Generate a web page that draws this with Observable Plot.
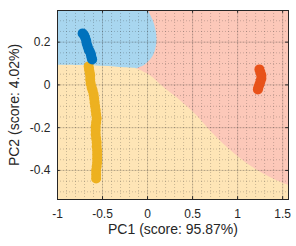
<!DOCTYPE html>
<html>
<head>
<meta charset="utf-8">
<script src="https://cdn.jsdelivr.net/npm/d3@7"></script>
<script src="https://cdn.jsdelivr.net/npm/@observablehq/plot@0.6"></script>
<style>
  html, body { margin: 0; padding: 0; background: #fff; }
</style>
</head>
<body>
<div id="chart"></div>
<script>
// ---- data ----
const xDomain = [-1, 1.565];
const yDomain = [-0.536, 0.348];
const xTicks = [-1, -0.5, 0, 0.5, 1, 1.5];
const yTicks = [-0.4, -0.2, 0, 0.2];
const xLabel = "PC1 (score: 95.87%)";
const yLabel = "PC2 (score: 4.02%)";

// class 1 (blue)
const blueX = [-0.721, -0.704, -0.693, -0.682, -0.676, -0.665, -0.654, -0.643, -0.632, -0.626, -0.621, -0.615];
const blueY = [0.241, 0.232, 0.222, 0.208, 0.194, 0.180, 0.166, 0.157, 0.147, 0.136, 0.126, 0.119];
// class 2 (yellow)
const yellowX = [-0.654, -0.649, -0.643, -0.637, -0.637, -0.632, -0.621, -0.610, -0.599, -0.593, -0.588, -0.582, -0.576, -0.571, -0.565, -0.571, -0.576, -0.576, -0.576, -0.571, -0.565, -0.565, -0.560, -0.560, -0.560, -0.560, -0.565, -0.571, -0.571, -0.571];
const yellowY = [0.0865, 0.0725, 0.0585, 0.0444, 0.0257, 0.0070, -0.0117, -0.0257, -0.0444, -0.0631, -0.0818, -0.1005, -0.1192, -0.1380, -0.1567, -0.1754, -0.1941, -0.2128, -0.2315, -0.2502, -0.2689, -0.2877, -0.3064, -0.3251, -0.3438, -0.3625, -0.3812, -0.3999, -0.4186, -0.4373];
// class 3 (red)
const redX = [1.242, 1.253, 1.264, 1.264, 1.253, 1.242, 1.231, 1.225];
const redY = [0.0725, 0.0585, 0.0444, 0.0304, 0.0164, 0.0023, -0.0117, -0.0210];

// decision boundaries
// blue / yellow (function of x)
const byX = [-1, -0.5, -0.25, -0.116];
const byY = [0.092, 0.087, 0.080, 0.076];
// blue / pink (function of y)
const bpY = [0.076, 0.087, 0.110, 0.138, 0.171, 0.208, 0.255, 0.302, 0.348];
const bpX = [-0.116, -0.05, 0.017, 0.067, 0.094, 0.105, 0.094, 0.061, 0.006];
// pink / yellow (function of x)
const pyX = [-0.12, 0.028, 0.175, 0.360, 0.545, 0.693, 0.840, 0.989, 1.136, 1.284, 1.432, 1.569];
const pyY = [0.076, 0.044, -0.010, -0.072, -0.143, -0.213, -0.275, -0.330, -0.377, -0.415, -0.447, -0.470];

const colors = {blue: "#0072BD", yellow: "#EDB120", red: "#E8521A"};
const regionColors = {blue: "#a8d6ef", pink: "#fcc8b9", yellow: "#fee5b6"};

// ---- build tables ----
const toPts = (xs, ys) => xs.map((x, i) => ({x, y: ys[i]}));
const bluePts = toPts(blueX, blueY);
const yellowPts = toPts(yellowX, yellowY);
const redPts = toPts(redX, redY);
const byPts = toPts(byX, byY);
const bpPts = toPts(bpX, bpY);
const pyPts = toPts(pyX, pyY);

const xMinor = d3.range(-1, 1.5601, 0.1).map(v => +v.toFixed(2));
const yMinor = d3.range(-0.5, 0.3501, 0.05).map(v => +v.toFixed(2));

const tickLenY = 2.8 / 213.8;
const tickLenX = 2.8 / 90.2;
const ink = "#262626";

const chart = Plot.plot({
  width: 296,
  height: 246,
  marginLeft: 57,
  marginRight: 8,
  marginTop: 10,
  marginBottom: 47,
  x: {domain: xDomain},
  y: {domain: yDomain},
  style: {fontFamily: "'Liberation Sans', Arial, sans-serif", fontSize: "12px", color: ink, background: "#fff"},
  marks: [
    Plot.frame({fill: regionColors.yellow, stroke: "none"}),
    Plot.areaY(pyPts, {x: "x", y1: "y", y2: yDomain[1], fill: regionColors.pink, curve: "catmull-rom", clip: true}),
    Plot.areaY(byPts, {x: "x", y1: "y", y2: yDomain[1], fill: regionColors.blue, curve: "catmull-rom", clip: true}),
    Plot.areaX(bpPts, {y: "y", x1: -0.13, x2: "x", fill: regionColors.blue, curve: "catmull-rom", clip: true}),
    // minor grid
    Plot.ruleX(xMinor, {x: d => d, stroke: ink, strokeOpacity: 0.3, strokeDasharray: "1,2", strokeWidth: 0.8}),
    Plot.ruleY(yMinor.filter(v => v >= yDomain[0] && v <= yDomain[1]), {y: d => d, stroke: ink, strokeOpacity: 0.3, strokeDasharray: "1,2", strokeWidth: 0.8}),
    // major grid
    Plot.ruleX(xTicks, {x: d => d, stroke: ink, strokeOpacity: 0.15, strokeWidth: 1}),
    Plot.ruleY(yTicks, {y: d => d, stroke: ink, strokeOpacity: 0.15, strokeWidth: 1}),
    // points
    Plot.dot(yellowPts, {x: "x", y: "y", r: 5, fill: colors.yellow, stroke: "none"}),
    Plot.dot(bluePts, {x: "x", y: "y", r: 5, fill: colors.blue, stroke: "none"}),
    Plot.dot(redPts, {x: "x", y: "y", r: 5, fill: colors.red, stroke: "none"}),
    // inward ticks on all four sides
    Plot.ruleX(xTicks, {x: d => d, y1: yDomain[0], y2: yDomain[0] + tickLenY, stroke: ink}),
    Plot.ruleX(xTicks, {x: d => d, y1: yDomain[1], y2: yDomain[1] - tickLenY, stroke: ink}),
    Plot.ruleY(yTicks, {y: d => d, x1: xDomain[0], x2: xDomain[0] + tickLenX, stroke: ink}),
    Plot.ruleY(yTicks, {y: d => d, x1: xDomain[1], x2: xDomain[1] - tickLenX, stroke: ink}),
    Plot.frame({stroke: ink, strokeWidth: 1}),
    Plot.axisX({ticks: xTicks, tickSize: 0, tickPadding: 10, label: null, tickFormat: d => String(d), fontSize: 12}),
    Plot.axisY({ticks: yTicks, tickSize: 0, tickPadding: 7, label: null, tickFormat: d => String(d), fontSize: 12}),
    Plot.text([xLabel], {text: d => d, frameAnchor: "bottom", textAnchor: "middle", dy: 34, fontSize: 14, fill: ink}),
    Plot.text([yLabel], {text: d => d, frameAnchor: "left", textAnchor: "middle", dx: -43, rotate: -90, fontSize: 14, fill: ink})
  ]
});
document.getElementById("chart").appendChild(chart);
</script>
</body>
</html>
